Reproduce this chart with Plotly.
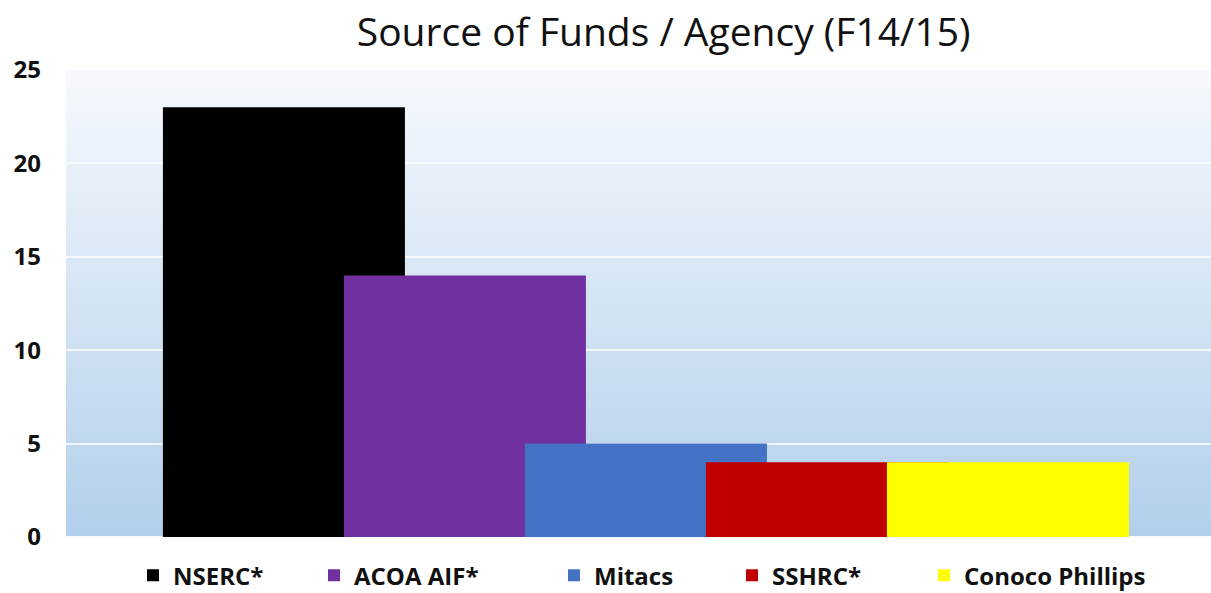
import plotly.graph_objects as go

categories = ["NSERC*", "ACOA AIF*", "Mitacs", "SSHRC*", "Conoco Phillips"]
values = [23, 14, 5, 4, 4]
colors = ["#000000", "#7030A0", "#4472C4", "#C00000", "#FFFF00"]
y_ticks = [0, 5, 10, 15, 20, 25]

FONT = "Open Sans"
fig = go.Figure()

# legend positions (pixel of symbol left edge in reference)
legend_px = [149, 330, 570, 748, 940]
plot_left, plot_w = 66, 1145

for i, (c, v, col) in enumerate(zip(categories, values, colors)):
    lname = "legend" if i == 0 else f"legend{i+1}"
    fig.add_trace(go.Bar(
        x=[c], y=[v], name=c, marker=dict(color=col, line=dict(width=0)),
        width=1.337, legend=lname,
    ))
    fig.update_layout({lname: dict(
        orientation="h", x=(legend_px[i] - 16 - plot_left) / plot_w, xanchor="left",
        y=-0.083, yanchor="middle", bgcolor="rgba(0,0,0,0)",
        font=dict(family=FONT, size=24, color="#111", weight="bold"),
    )})

# background gradient
shapes = []
n = 80
top = (246, 249, 253)
bot = (178, 207, 235)
for k in range(n):
    t = (k + 0.5) / n
    r = round(top[0] + (bot[0] - top[0]) * t)
    g = round(top[1] + (bot[1] - top[1]) * t)
    b = round(top[2] + (bot[2] - top[2]) * t)
    shapes.append(dict(type="rect", xref="x domain", yref="y domain",
                       x0=0, x1=1, y0=1 - k / n, y1=1 - (k + 1) / n - 0.002,
                       fillcolor=f"rgb({r},{g},{b})", line=dict(width=0), layer="below"))

fig.update_layout(
    barmode="overlay",
    width=1211, height=593,
    margin=dict(l=66, r=0, t=70, b=56, autoexpand=False),
    paper_bgcolor="white", plot_bgcolor="rgba(0,0,0,0)",
    shapes=shapes,
    title=dict(text="Source of Funds / Agency (F14/15)", x=0.548, xanchor="center",
               y=0.945, yanchor="middle",
               font=dict(family=FONT, size=39, color="#111")),
    xaxis=dict(range=[-1.204, 5.122], showticklabels=False, showgrid=False,
               zeroline=False, showline=False, fixedrange=True, automargin=False),
    yaxis=dict(range=[0, 25], tickvals=y_ticks, showgrid=True,
               gridcolor="rgba(255,255,255,0.75)", gridwidth=1.5,
               zeroline=True, zerolinecolor="rgba(255,255,255,0.9)", zerolinewidth=1.5,
               tickfont=dict(family=FONT, size=24, color="#111", weight="bold"),
               ticklabelstandoff=24, showline=False, automargin=False),
    showlegend=True,
)

fig.write_html("out.html", config={"displayModeBar": False},
               post_script="document.body.style.margin='0';document.body.style.overflow='hidden';")
